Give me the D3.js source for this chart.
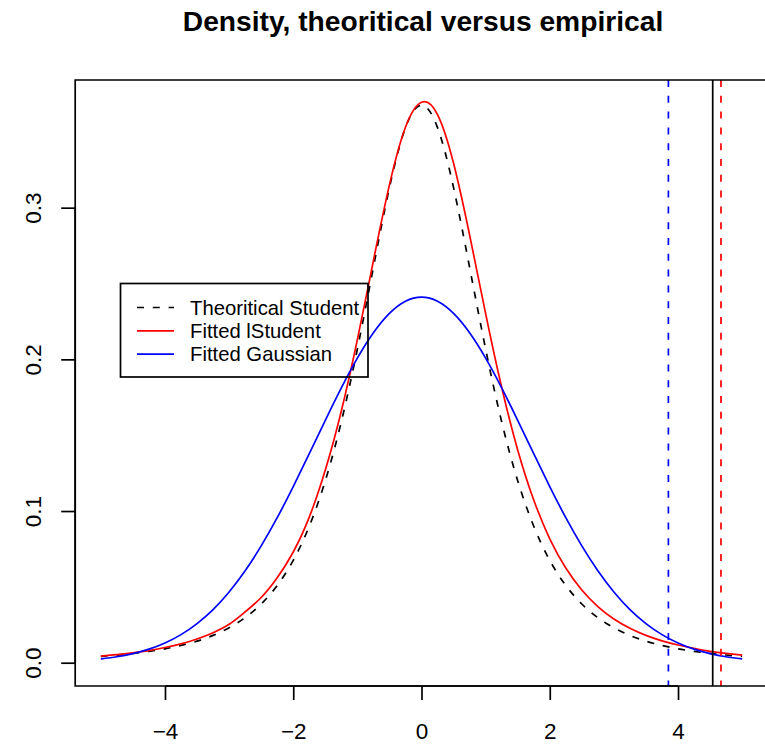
<!DOCTYPE html>
<html><head><meta charset="utf-8">
<script src="https://cdn.jsdelivr.net/npm/d3@7"></script>
<style>body{margin:0;background:#fff}svg{display:block}text{font-family:"Liberation Sans",Arial,sans-serif}</style>
</head><body>
<svg id="c" width="765" height="744"></svg>
<script>
const xGrid = [-5,-4.75,-4.5,-4.25,-4,-3.75,-3.5,-3.25,-3,-2.75,-2.5,-2.25,-2,-1.75,-1.5,-1.25,-1,-0.75,-0.5,-0.25,0,0.25,0.5,0.75,1,1.25,1.5,1.75,2,2.25,2.5,2.75,3,3.25,3.5,3.75,4,4.25,4.5,4.75,5];
const theoStudent = [0.00422,0.00506,0.00612,0.00746,0.00916,0.0114,0.0142,0.0180,0.0230,0.0297,0.0387,0.0509,0.0675,0.0900,0.1200,0.1589,0.2068,0.2607,0.3132,0.3528,0.3676,0.3528,0.3132,0.2607,0.2068,0.1589,0.1200,0.0900,0.0675,0.0509,0.0387,0.0297,0.0230,0.0180,0.0142,0.0114,0.00916,0.00746,0.00612,0.00506,0.00422];
const fittedStudent = [0.0044,0.0053,0.0065,0.0080,0.0100,0.0124,0.0156,0.0198,0.0253,0.0335,0.0430,0.0560,0.0730,0.0960,0.1270,0.1660,0.2130,0.2650,0.3150,0.3530,0.3695,0.3614,0.3293,0.2820,0.2302,0.1816,0.1403,0.1073,0.0817,0.0624,0.0479,0.0370,0.0288,0.0227,0.0180,0.0144,0.0117,0.0095,0.0075,0.0061,0.0050];
const fittedGauss = [0.00251,0.00392,0.00598,0.00892,0.0130,0.0185,0.0258,0.0350,0.0466,0.0606,0.0770,0.0956,0.1161,0.1378,0.1598,0.1812,0.2008,0.2175,0.2303,0.2383,0.2410,0.2383,0.2303,0.2175,0.2008,0.1812,0.1598,0.1378,0.1161,0.0956,0.0770,0.0606,0.0466,0.0350,0.0258,0.0185,0.0130,0.00892,0.00598,0.00392,0.00251];
const quantiles = [{v:3.85,c:"#0000ff",dash:true},{v:4.541,c:"#000000",dash:false},{v:4.67,c:"#ff0000",dash:true}];
const xTicks = [-4,-2,0,2,4];
const yTicks = [0,0.1,0.2,0.3];
const legendLabels = ["Theoritical Student","Fitted lStudent","Fitted Gaussian"];

const svg = d3.select("#c");
const L=75.2, R=767.8, T=80, B=686;
const x = d3.scaleLinear().domain([-5.4,5.4]).range([L,R]);
const y = d3.scaleLinear().domain([-0.01536,0.38418]).range([B,T]);
const FF = "Liberation Sans, Arial, sans-serif";

svg.append("text").attr("x",423).attr("y",31).attr("text-anchor","middle")
  .attr("font-weight","bold").attr("font-size",28.2).text("Density, theoritical versus empirical");

const dash = "7,8.8";
const line = d3.line().x((d,i)=>x(xGrid[i])).y(d=>y(d)).curve(d3.curveNatural);
const plot = svg.append("g");
plot.append("path").attr("d",line(theoStudent)).attr("fill","none").attr("stroke","#000").attr("stroke-width",1.7).attr("stroke-dasharray",dash);
plot.append("path").attr("d",line(fittedStudent)).attr("fill","none").attr("stroke","#ff0000").attr("stroke-width",1.7);
plot.append("path").attr("d",line(fittedGauss)).attr("fill","none").attr("stroke","#0000ff").attr("stroke-width",1.7);

quantiles.forEach(q=>{
  plot.append("line").attr("x1",x(q.v)).attr("x2",x(q.v)).attr("y1",T).attr("y2",B)
    .attr("stroke",q.c).attr("stroke-width",1.7).attr("stroke-dasharray",q.dash?dash:null);
});

// frame
svg.append("path").attr("d",`M${R},${T}H${L}V${B}H${R}`).attr("fill","none").attr("stroke","#000").attr("stroke-width",1.7);

// axes
const xa = svg.append("g").attr("transform",`translate(0,${B})`)
  .call(d3.axisBottom(x).tickValues(xTicks).tickSize(14).tickPadding(20).tickFormat(d=>d<0?"\u2212"+Math.abs(d):String(d)));
xa.select(".domain").attr("d",`M${x(-4)},0H${x(4)}`).attr("stroke-width",1.7);
xa.selectAll("line").attr("stroke-width",1.7);
xa.selectAll("text").attr("font-size",22.5).attr("font-family",FF).attr("y",37).attr("dy","0.71em").attr("fill","#000");

const ya = svg.append("g").attr("transform",`translate(${L},0)`)
  .call(d3.axisLeft(y).tickValues(yTicks).tickSize(14).tickFormat(d3.format(".1f")));
ya.select(".domain").attr("d",`M0,${y(0)}V${y(0.3)}`).attr("stroke-width",1.7);
ya.selectAll("line").attr("stroke-width",1.7);
ya.selectAll("text").remove();
ya.selectAll(".tick").append("text").attr("transform","translate(-42,0) rotate(-90)")
  .attr("text-anchor","middle").attr("dy","0.35em").attr("fill","#000")
  .attr("font-size",22.5).attr("font-family",FF)
  .text(d=>d3.format(".1f")(d));

// legend (transparent background, as in the reference)
const lg = svg.append("g");
lg.append("rect").attr("x",120.5).attr("y",283.5).attr("width",247.5).attr("height",93.5)
  .attr("fill","none").attr("stroke","#000").attr("stroke-width",1.7);
const lcol = ["#000","#ff0000","#0000ff"];
legendLabels.forEach((t,i)=>{
  const yy = 307.5 + i*23.3;
  lg.append("line").attr("x1",137).attr("x2",174).attr("y1",yy).attr("y2",yy)
    .attr("stroke",lcol[i]).attr("stroke-width",1.7).attr("stroke-dasharray",i===0?"7,8.8":null);
  lg.append("text").attr("x",190).attr("y",yy).attr("dy","0.35em").attr("font-size",20.3).text(t);
});
</script>
</body></html>
